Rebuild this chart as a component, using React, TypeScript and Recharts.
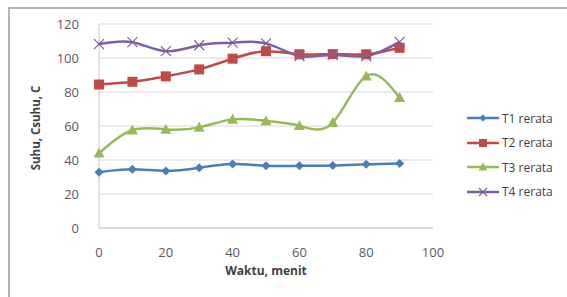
import React from "react";
import {
  LineChart,
  Line,
  XAxis,
  YAxis,
  CartesianGrid,
  Label,
} from "recharts";

// waktu (menit)
const minutes = [0, 10, 20, 30, 40, 50, 60, 70, 80, 90];
const t1 = [32.8, 34.5, 33.6, 35.5, 37.6, 36.6, 36.6, 36.8, 37.5, 38];
const t2 = [84.4, 86, 89.2, 93.3, 99.6, 104, 102.2, 102.3, 102.2, 106];
const t3 = [44, 57.6, 58, 59.2, 63.9, 63, 60.2, 62, 89.4, 76.7];
const t4 = [108.2, 109.3, 104, 107.5, 109, 108.6, 101.2, 101.8, 101.2, 109.5];

const xTicks = [0, 20, 40, 60, 80, 100];
const yTicks = [0, 20, 40, 60, 80, 100, 120];

const seriesNames = ["T1 rerata", "T2 rerata", "T3 rerata", "T4 rerata"];
const colors = ["#4A7EBB", "#BE4B48", "#98B954", "#7D60A0"];

const data = minutes.map((m, i) => ({
  m,
  t1: t1[i],
  t2: t2[i],
  t3: t3[i],
  t4: t4[i],
}));

type Shape = "diamond" | "square" | "triangle" | "cross";
const shapes: Shape[] = ["diamond", "square", "triangle", "cross"];

function Marker({ shape, cx, cy, color, s = 1 }: { shape: Shape; cx: number; cy: number; color: string; s?: number }) {
  if (shape === "diamond") {
    const r = 4.5 * s;
    return <path d={`M${cx},${cy - r}L${cx + r},${cy}L${cx},${cy + r}L${cx - r},${cy}Z`} fill={color} />;
  }
  if (shape === "square") {
    const r = 5 * s;
    return <rect x={cx - r} y={cy - r} width={r * 2} height={r * 2} fill={color} />;
  }
  if (shape === "triangle") {
    const r = 5.5 * s;
    return <path d={`M${cx},${cy - r}L${cx + r},${cy + r * 0.8}L${cx - r},${cy + r * 0.8}Z`} fill={color} />;
  }
  const r = 5 * s;
  return (
    <path
      d={`M${cx - r},${cy - r}L${cx + r},${cy + r}M${cx - r},${cy + r}L${cx + r},${cy - r}`}
      stroke={color}
      strokeWidth={1.2}
      fill="none"
    />
  );
}

const makeDot = (shape: Shape, color: string) => (props: any) => {
  const { cx, cy, index } = props;
  return (
    <g key={`${shape}-${index}`}>
      <Marker shape={shape} cx={cx} cy={cy} color={color} />
    </g>
  );
};

// legend drawn by hand, sits to the right of the plot
const LegendBox = () => (
  <div
    style={{
      position: "absolute",
      left: 466,
      top: 106,
      fontFamily: "'Open Sans', sans-serif",
      fontSize: 12,
      color: "#404040",
    }}
  >
    {seriesNames.map((name, i) => (
      <div key={name} style={{ display: "flex", alignItems: "center", height: 24.5 }}>
        <svg width={34} height={12} style={{ marginRight: 2 }}>
          <line x1={1} y1={6} x2={33} y2={6} stroke={colors[i]} strokeWidth={2.5} />
          <Marker shape={shapes[i]} cx={17} cy={6} color={colors[i]} s={0.8} />
        </svg>
        <span>{name}</span>
      </div>
    ))}
  </div>
);

export default function App() {
  const tickStyle = { fontSize: 13, fill: "#595959", fontFamily: "'Open Sans', sans-serif" };
  return (
    <div
      style={{
        position: "fixed",
        left: 0,
        top: 0,
        width: 567,
        height: 297,
        background: "#fff",
      }}
    >
      <div
        style={{
          position: "absolute",
          left: 8,
          top: 7,
          right: 0,
          bottom: 0,
          borderTop: "2px solid #b4b4b4",
          borderLeft: "2px solid #b4b4b4",
        }}
      />
      <LineChart
        width={567}
        height={297}
        data={data}
        margin={{ top: 24, right: 134, bottom: 39, left: 0 }}
        style={{ position: "absolute", left: 0, top: 0 }}
      >
        <CartesianGrid vertical={false} stroke="#d9d9d9" strokeWidth={1} />
        <XAxis
          dataKey="m"
          type="number"
          domain={[0, 100]}
          ticks={xTicks}
          interval={0}
          tickLine={false}
          axisLine={{ stroke: "#c8c8c8" }}
          tick={tickStyle}
          tickMargin={14}
          height={30}
        >
          <Label
            value="Waktu, menit"
            position="bottom"
            offset={8}
            style={{ fontSize: 12, fontWeight: 700, fill: "#404040", fontFamily: "'Open Sans', sans-serif" }}
          />
        </XAxis>
        <YAxis
          width={99}
          domain={[0, 120]}
          ticks={yTicks}
          interval={0}
          tickLine={false}
          axisLine={{ stroke: "#c8c8c8" }}
          tick={tickStyle}
          tickMargin={14}
        >
          <Label
            content={() => (
              <text
                x={35}
                y={128}
                transform="rotate(-90 35 128)"
                textAnchor="middle"
                dominantBaseline="central"
                style={{ fontSize: 11.5, fontWeight: 700, fill: "#404040", fontFamily: "'Open Sans', sans-serif" }}
              >
                Suhu, Csuhu, C
              </text>
            )}
          />
        </YAxis>
        <Line type="natural" dataKey="t1" name={seriesNames[0]} stroke={colors[0]} strokeWidth={2.5} dot={makeDot("diamond", colors[0])} isAnimationActive={false} />
        <Line type="natural" dataKey="t2" name={seriesNames[1]} stroke={colors[1]} strokeWidth={2.5} dot={makeDot("square", colors[1])} isAnimationActive={false} />
        <Line type="natural" dataKey="t3" name={seriesNames[2]} stroke={colors[2]} strokeWidth={2.5} dot={makeDot("triangle", colors[2])} isAnimationActive={false} />
        <Line type="natural" dataKey="t4" name={seriesNames[3]} stroke={colors[3]} strokeWidth={2.5} dot={makeDot("cross", colors[3])} isAnimationActive={false} />
      </LineChart>
      <LegendBox />
    </div>
  );
}
